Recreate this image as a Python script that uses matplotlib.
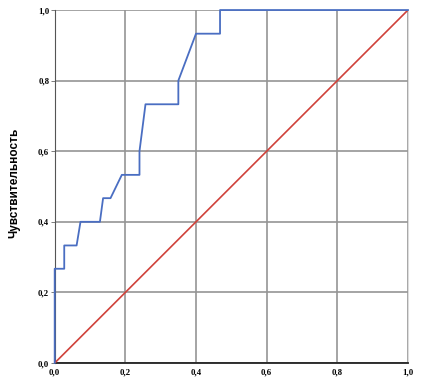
import matplotlib
matplotlib.use("Agg")
import matplotlib.pyplot as plt
from matplotlib.ticker import FuncFormatter

# ROC curve points
fpr = [0.0, 0.0, 0.027, 0.027, 0.062, 0.073, 0.128, 0.137, 0.158, 0.19, 0.24, 0.24,
       0.257, 0.35, 0.35, 0.40, 0.468, 0.468, 1.0]
tpr = [0.0, 0.267, 0.267, 0.333, 0.333, 0.4, 0.4, 0.467, 0.467, 0.533, 0.533, 0.6,
       0.733, 0.733, 0.8, 0.933, 0.933, 1.0, 1.0]
ref_line = [0.0, 1.0]
ticks = [0.0, 0.2, 0.4, 0.6, 0.8, 1.0]

fig = plt.figure(figsize=(4.29, 3.86), dpi=100)
ax = fig.add_axes([0.1275, 0.0596, 0.8235, 0.9144])

ax.plot(ref_line, ref_line, color='#d0413a', lw=1.2, zorder=4)
ax.plot(fpr, tpr, color='#4a6ec2', lw=1.3, zorder=5, clip_on=False)

ax.set_xlim(0, 1)
ax.set_ylim(0, 1)
ax.set_xticks(ticks)
ax.set_yticks(ticks)
fmt = FuncFormatter(lambda v, p: f"{v:.1f}".replace('.', ','))
ax.xaxis.set_major_formatter(fmt)
ax.yaxis.set_major_formatter(fmt)
ax.grid(True, color='#959595', lw=1.2)
ax.set_axisbelow(True)

for lab in ax.get_xticklabels() + ax.get_yticklabels():
    lab.set_fontweight('bold')
    lab.set_fontsize(6.3)
    lab.set_family('Liberation Serif')
ax.tick_params(axis='x', length=0, pad=4)
ax.tick_params(axis='y', length=3, width=0.6, color='#666666', pad=1)

ax.spines['top'].set_visible(False)
ax.spines['right'].set_color('#dddddd')
ax.spines['bottom'].set_color('#222222')
ax.spines['bottom'].set_linewidth(1.3)
ax.spines['left'].set_color('#555555')
ax.spines['left'].set_linewidth(0.8)

fig.text(0.033, 0.525, 'Чувствительность', rotation=90, ha='center', va='center',
         fontsize=8.5, fontweight='bold', family=['Liberation Sans Narrow', 'Liberation Sans'])

fig.savefig('out.png', dpi=100)
